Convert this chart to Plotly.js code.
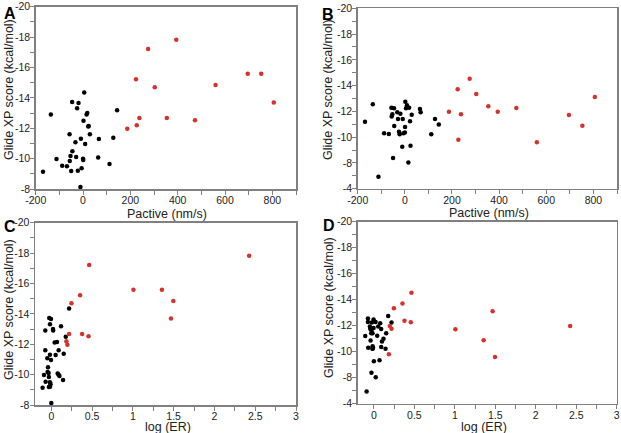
<!DOCTYPE html>
<html>
<head>
<meta charset="utf-8">
<script src="https://cdn.plot.ly/plotly-3.0.1.min.js"></script>
<style>
html,body{margin:0;padding:0;background:#fff;}
#chart{width:621px;height:433px;}
</style>
</head>
<body>
<div id="chart"></div>
<script>
// ---- Data ----
// Inactive / reference compounds (black)
var blackPactive = [-169,-136,-112,-88,-68,-57,-56,-53,-50,-46,-45,-32,-29,-25,-22,-19,-11,-9,-6,0,1,2,5,9,15,18,22,24,29,64,67,112,128,144];
var blackLogER   = [-0.107,-0.074,-0.09,-0.07,-0.017,-0.074,-0.03,-0.045,-0.03,-0.025,-0.041,-0.049,-0.033,-0.016,-0.016,-0.004,0.0,-0.017,-0.01,0.09,0.1,0.177,0.218,-0.004,0.023,0.021,0.041,0.07,0.09,0.078,0.053,0.144,0.152,0.119];
var blackScore1  = [-9.14,-12.91,-9.97,-9.53,-9.49,-11.6,-9.84,-10.17,-9.18,-13.72,-10.48,-11.07,-10.1,-13.31,-9.2,-13.66,-8.13,-11.31,-9.36,-9.99,-9.91,-12.49,-14.36,-10.96,-12.91,-13.0,-12.12,-12.15,-11.6,-10.08,-11.29,-9.64,-11.37,-13.18];
var blackScore2  = [-11.2,-12.55,-6.93,-10.3,-10.24,-12.29,-11.61,-11.77,-8.38,-12.24,-10.86,-11.93,-11.41,-10.42,-10.22,-11.82,-9.26,-11.41,-10.3,-10.37,-10.79,-12.75,-12.24,-12.47,-8.04,-12.29,-11.23,-9.34,-11.74,-12.18,-11.93,-10.22,-11.41,-10.99];
// Active compounds (red)
var redPactive = [187,224,227,238,275,303,354,394,473,560,696,753,806];
var redLogER   = [0.197,0.353,0.185,0.218,0.464,0.247,0.378,2.425,0.456,1.496,1.007,1.356,1.467];
var redScore1  = [-11.97,-15.22,-12.19,-12.67,-17.21,-14.69,-12.67,-17.83,-12.52,-14.84,-15.59,-15.59,-13.70];
var redScore2  = [-11.98,-13.71,-9.8,-11.77,-14.54,-13.35,-12.39,-11.98,-12.26,-9.6,-11.72,-10.89,-13.12];

// Tick labels
var pactiveTicks = [-200,0,200,400,600,800];
var pactiveLabels = ["-200","0","200","400","600","800"];
var erTicks = [0,0.5,1,1.5,2,2.5,3];
var erLabels = ["0","0.5","1","1.5","2","2.5","3"];
var score1Ticks = [-20,-18,-16,-14,-12,-10,-8];
var score1Labels = ["-20","-18","-16","-14","-12","-10","-8"];
var score2Ticks = [-20,-18,-16,-14,-12,-10,-8,-6];
var score2Labels = ["-20","-18","-16","-14","-12","-10","-8","-4"];
var panelLetters = ["A","B","C","D"];
var yTitle = "Glide XP score (kcal/mol)";
var xTitlePactive = "Pactive (nm/s)";
var xTitleER = "log (ER)";

// ---- Styles ----
var BLACK = '#000000', RED = '#d6312b';
var AXC = '#808080';
var FAM = 'Liberation Sans, Arial, sans-serif';
var tickFont = {family:FAM, size:10.5, color:'#222'};
var titleFont = {family:FAM, size:12.5, color:'#222'};

function pts(x, y, color, xa, ya){
  return {type:'scatter', mode:'markers', x:x, y:y, xaxis:xa, yaxis:ya,
    marker:{color:color, size:4.5, line:{width:0}}, showlegend:false, hoverinfo:'x+y'};
}

var data = [
  pts(blackPactive, blackScore1, BLACK, 'x', 'y'),
  pts(redPactive, redScore1, RED, 'x', 'y'),
  pts(blackPactive, blackScore2, BLACK, 'x2', 'y2'),
  pts(redPactive, redScore2, RED, 'x2', 'y2'),
  pts(blackLogER, blackScore1, BLACK, 'x3', 'y3'),
  pts(redLogER, redScore1, RED, 'x3', 'y3'),
  pts(blackLogER, blackScore2, BLACK, 'x4', 'y4'),
  pts(redLogER, redScore2, RED, 'x4', 'y4')
];

function xax(domain, anchor, range, tv, tt, minorD){
  return {domain:domain, anchor:anchor, range:range, tickmode:'array', tickvals:tv, ticktext:tt,
    showgrid:false, zeroline:false, showline:true, linecolor:AXC, linewidth:1.5, mirror:true,
    ticks:'outside', ticklen:4, tickwidth:1, tickcolor:AXC, tickfont:tickFont, automargin:false,
    ticklabelstandoff:-3,
    minor:{dtick:minorD, tick0:0, ticks:'outside', ticklen:4, tickcolor:AXC, showgrid:false}};
}
function yax(domain, anchor, range, tv, tt){
  var mv = [];
  for (var i=0;i<tv.length-1;i++){ mv.push((tv[i]+tv[i+1])/2); }
  return {domain:domain, anchor:anchor, range:range, tickmode:'array', tickvals:tv, ticktext:tt,
    showgrid:false, zeroline:false, showline:true, linecolor:AXC, linewidth:1.5, mirror:true,
    ticks:'outside', ticklen:4, tickwidth:1, tickcolor:AXC, tickfont:tickFont, automargin:false,
    ticklabelstandoff:-2,
    minor:{tickmode:'array', tickvals:mv, ticks:'outside', ticklen:4, tickcolor:AXC, showgrid:false}};
}

var W=621, H=433;
function dx(a,b){return [a/W, b/W];}
function dy(top,bottom){return [1-bottom/H, 1-top/H];}

var ann = [];
function letter(t, x, y){
  ann.push({text:'<b>'+t+'</b>', x:x/W, y:1-y/H, xref:'paper', yref:'paper', xanchor:'left', yanchor:'top',
    showarrow:false, font:{family:FAM, size:16, color:'#000'}});
}
function ytitle(x, y){
  ann.push({text:yTitle, x:x/W, y:1-y/H, xref:'paper', yref:'paper', xanchor:'center', yanchor:'middle',
    textangle:-90, showarrow:false, font:titleFont});
}
function xtitle(t, x, y){
  ann.push({text:t, x:x/W, y:1-y/H, xref:'paper', yref:'paper', xanchor:'center', yanchor:'middle',
    showarrow:false, font:titleFont});
}
letter(panelLetters[0], 2, 3);
letter(panelLetters[1], 320, 4);
letter(panelLetters[2], 2, 216);
letter(panelLetters[3], 321, 215);
ytitle(9, 90); ytitle(328, 90); ytitle(9, 310); ytitle(329, 308);
xtitle(xTitlePactive, 167, 214); xtitle(xTitlePactive, 489, 213);
xtitle(xTitleER, 168, 427); xtitle(xTitleER, 484, 427);

var layout = {
  width:W, height:H, margin:{l:0,r:0,t:0,b:0},
  paper_bgcolor:'#fff', plot_bgcolor:'#fff', showlegend:false,
  xaxis:  xax(dx(35.7,296), 'y',  [-200,900], pactiveTicks, pactiveLabels, 100),
  yaxis:  yax(dy(6.7,189), 'x',   [-8,-20], score1Ticks, score1Labels),
  xaxis2: xax(dx(357.7,617), 'y2', [-200,900], pactiveTicks, pactiveLabels, 100),
  yaxis2: yax(dy(8.3,188.7), 'x2', [-6,-20], score2Ticks, score2Labels),
  xaxis3: xax(dx(35,296), 'y3', [-0.2,3], erTicks, erLabels, 0.25),
  yaxis3: yax(dy(222.7,405), 'x3', [-8,-20], score1Ticks, score1Labels),
  xaxis4: xax(dx(357.7,616.7), 'y4', [-0.2,3], erTicks, erLabels, 0.25),
  yaxis4: yax(dy(221.7,403.7), 'x4', [-6,-20], score2Ticks, score2Labels),
  annotations: ann
};

Plotly.newPlot('chart', data, layout, {staticPlot:true, displayModeBar:false});
</script>
</body>
</html>
